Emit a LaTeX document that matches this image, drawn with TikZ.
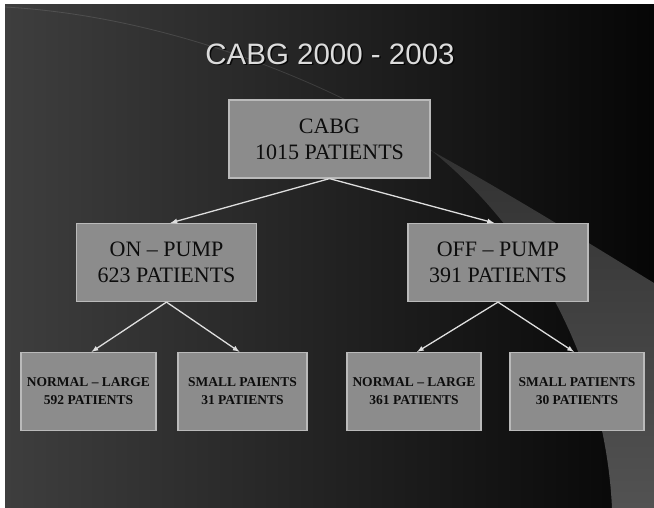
\documentclass[tikz,border=0pt]{standalone}
\usepackage{fontspec}
\setmainfont{Liberation Serif}
\newfontfamily\titlefont{Liberation Sans}
\usetikzlibrary{arrows}

\definecolor{boxfill}{RGB}{140,140,140}
\definecolor{boxline}{RGB}{186,186,186}
\definecolor{bgleft}{RGB}{62,62,62}
\definecolor{bgmid}{RGB}{42,42,42}
\definecolor{bgright}{RGB}{6,6,6}
\definecolor{swooshtop}{RGB}{50,50,50}
\definecolor{swooshbot}{RGB}{82,82,82}
\definecolor{arrowcol}{RGB}{222,222,222}
\definecolor{titlecol}{RGB}{220,220,220}

\tikzset{
  group/.style={draw=boxline, line width=1.2pt, fill=boxfill, minimum height=78pt, align=center, text=black!95, inner sep=2pt},
  bigbox/.style={group, font=\fontsize{22}{26}\selectfont},
  smallbox/.style={group, font=\bfseries\fontsize{13.5}{18}\selectfont},
  link/.style={draw=arrowcol, line width=1.3pt, -latex}
}

\begin{document}
\begin{tikzpicture}[x=1pt,y=-1pt]
\fill[white] (0,0) rectangle (654,508);
\shade[left color=bgleft, middle color=bgmid, right color=bgright] (5,5) rectangle (654,508);
\shade[top color=swooshtop, bottom color=swooshbot] (432,151) .. controls (520,200) and (600,250) .. (654,283) -- (654,508) -- (612,508) .. controls (605,360) and (530,230) .. (432,151) -- cycle;
\draw[white, opacity=0.12, line width=0.8pt] (5,7) .. controls (200,18) and (380,110) .. (432,151);

\node[text=black, opacity=0.8, font=\titlefont\fontsize{29.5}{32}\selectfont] (titleshadow) at (331.5,55.5) {CABG 2000 - 2003};
\node[text=titlecol, font=\titlefont\fontsize{29.5}{32}\selectfont] (title) at (330,54) {CABG 2000 - 2003};

\node[bigbox, minimum width=201pt] (cabg) at (329.5,139) {CABG\\1015 PATIENTS};
\node[bigbox, minimum width=180pt] (onpump) at (166.5,262.5) {ON -- PUMP\\623 PATIENTS};
\node[bigbox, minimum width=180pt] (offpump) at (498,262.5) {OFF -- PUMP\\391 PATIENTS};
\node[smallbox, minimum width=135pt] (onnormal) at (88.5,391.5) {NORMAL -- LARGE\\592 PATIENTS};
\node[smallbox, minimum width=129pt] (onsmall) at (242.5,391.5) {SMALL PAIENTS\\31 PATIENTS};
\node[smallbox, minimum width=134pt] (offnormal) at (414,391.5) {NORMAL -- LARGE\\361 PATIENTS};
\node[smallbox, minimum width=134pt] (offsmall) at (577,391.5) {SMALL PATIENTS\\30 PATIENTS};

\draw[link] (cabg.south) -- ([xshift=4pt]onpump.north);
\draw[link] (cabg.south) -- ([xshift=-4pt]offpump.north);
\draw[link] (onpump.south) -- ([xshift=3pt]onnormal.north);
\draw[link] (onpump.south) -- ([xshift=-3pt]onsmall.north);
\draw[link] (offpump.south) -- ([xshift=3pt]offnormal.north);
\draw[link] (offpump.south) -- ([xshift=-3pt]offsmall.north);
\end{tikzpicture}
\end{document}
